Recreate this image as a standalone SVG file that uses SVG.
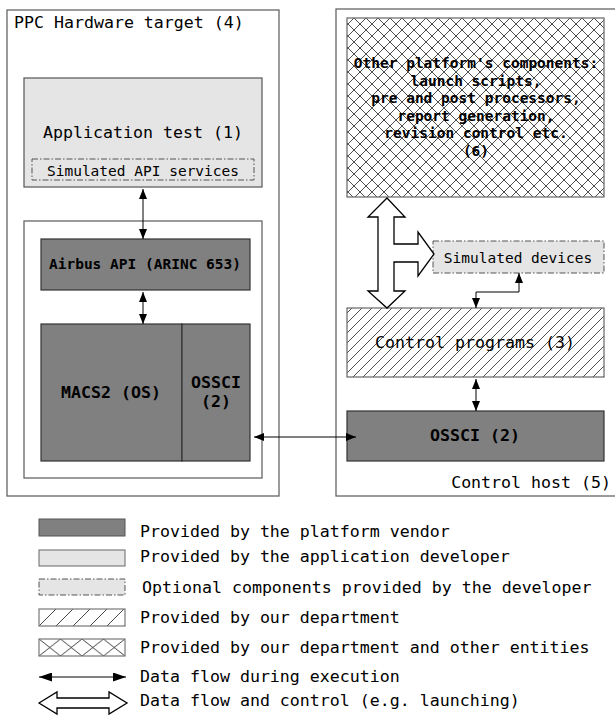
<svg xmlns="http://www.w3.org/2000/svg" width="615" height="718" viewBox="0 0 615 718">
<defs>
<style>
text{font-family:"DejaVu Sans Mono","Liberation Mono",monospace;fill:#000}
.l{font-size:16.6px}
.s{font-size:14.5px}
.b{font-weight:bold}
.m{text-anchor:middle}
.outer{fill:#fff;stroke:#666;stroke-width:1.3}
.dark{fill:#808080;stroke:#333;stroke-width:1.2}
.light{fill:#e5e5e5;stroke:#555;stroke-width:1.2}
.opt{fill:#e5e5e5;stroke:#555;stroke-width:1;stroke-dasharray:6 2 1.5 2}
.hatch{fill:url(#hatch);stroke:#666;stroke-width:1.2}
.cross{fill:url(#cross);stroke:#666;stroke-width:1.2}
.arr{fill:none;stroke:#000;stroke-width:1;marker-start:url(#ah);marker-end:url(#ah)}
.hollow{fill:#fff;stroke:#000;stroke-width:1.3;stroke-linejoin:miter}
</style>
<marker id="ah" markerUnits="userSpaceOnUse" markerWidth="10" markerHeight="8" refX="10" refY="4" orient="auto-start-reverse">
<path d="M0,0 L10,4 L0,8 z" fill="#000"/>
</marker>
<marker id="ahl" markerUnits="userSpaceOnUse" markerWidth="13" markerHeight="9" refX="13" refY="4.5" orient="auto-start-reverse">
<path d="M0,0 L13,4.5 L0,9 z" fill="#000"/>
</marker>
<pattern id="hatch" patternUnits="userSpaceOnUse" x="0" y="0" width="10" height="10">
<rect width="10" height="10" fill="#fff"/>
<path d="M-1,11 L11,-1 M-1,1 L1,-1 M9,11 L11,9" stroke="#222" stroke-width="0.8"/>
</pattern>
<pattern id="cross" patternUnits="userSpaceOnUse" x="0" y="0" width="12" height="12">
<rect width="12" height="12" fill="#fff"/>
<path d="M0,0 L12,12 M0,12 L12,0" stroke="#222" stroke-width="0.8"/>
</pattern>
<pattern id="hatchL" patternUnits="userSpaceOnUse" x="39" y="609" width="17" height="17">
<rect width="17" height="17" fill="#fff"/>
<path d="M0,17 L17,0" stroke="#333" stroke-width="0.9"/>
</pattern>
<pattern id="crossL" patternUnits="userSpaceOnUse" x="39" y="639" width="21.5" height="17">
<rect width="21.5" height="17" fill="#fff"/>
<path d="M0,0 L21.5,17 M0,17 L21.5,0" stroke="#333" stroke-width="0.9"/>
</pattern>
</defs>

<g id="ppc-target">
<rect class="outer" x="7" y="10" width="272" height="486"/>
<text class="l" x="14" y="28">PPC Hardware target (4)</text>
</g>

<g id="control-host">
<rect class="outer" x="336" y="9" width="282" height="487"/>
<text class="l" x="611" y="488" text-anchor="end">Control host (5)</text>
</g>

<g id="application-test">
<rect class="light" x="24" y="78" width="238" height="109"/>
<text class="l m" x="143" y="138">Application test (1)</text>
</g>

<g id="simulated-api">
<rect class="opt" x="32" y="159" width="222" height="21"/>
<text class="s m" x="143" y="176">Simulated API services</text>
</g>

<g id="platform-container">
<rect class="outer" x="24" y="221" width="238" height="257"/>
</g>

<g id="airbus-api">
<rect class="dark" x="41" y="239" width="209" height="51"/>
<text class="s b m" x="145" y="269">Airbus API (ARINC 653)</text>
</g>

<g id="macs2">
<rect class="dark" x="41" y="324" width="141" height="137"/>
<text class="l b m" x="111" y="398">MACS2 (OS)</text>
</g>

<g id="ossci-target">
<rect class="dark" x="182" y="324" width="68" height="137"/>
<text class="l b m" x="216" y="388">OSSCI</text>
<text class="l b m" x="216" y="407">(2)</text>
</g>

<g id="other-components">
<rect class="cross" x="347" y="18" width="257" height="179"/>
<text class="s b m" x="476" y="68">Other platform's components:</text>
<text class="s b m" x="476" y="85.5">launch scripts,</text>
<text class="s b m" x="476" y="103">pre and post processors,</text>
<text class="s b m" x="476" y="120.5">report generation,</text>
<text class="s b m" x="476" y="138">revision control etc.</text>
<text class="s b m" x="476" y="155.5">(6)</text>
</g>

<g id="simulated-devices">
<rect class="opt" x="433" y="241" width="171" height="32"/>
<text class="s m" x="518" y="263">Simulated devices</text>
</g>

<g id="control-programs">
<rect class="hatch" x="347" y="308" width="257" height="69"/>
<text class="l m" x="475" y="348">Control programs (3)</text>
</g>

<g id="ossci-host">
<rect class="dark" x="347" y="411" width="257" height="50"/>
<text class="l b m" x="475" y="441">OSSCI (2)</text>
</g>

<g id="connectors">
<path class="arr" d="M143,189 L143,239"/>
<path class="arr" d="M143,292 L143,324"/>
<path class="arr" d="M254,437 L356,437"/>
<path class="arr" d="M476,379 L476,411"/>
<path class="arr" d="M519,273 L519,292 L476,292 L476,308"/>
<path class="hollow" d="M387,198 L405,217 L394,217 L394,244 L418,244 L418,232 L434,254 L418,276 L418,262 L394,262 L394,291 L405,291 L387,308 L368,291 L378,291 L378,217 L368,217 Z"/>
</g>

<g id="legend">
<rect x="39" y="519" width="86" height="17" fill="#808080" stroke="#555" stroke-width="1"/>
<text class="l" x="140" y="537">Provided by the platform vendor</text>
<rect x="39" y="550" width="86" height="16" fill="#e5e5e5" stroke="#666" stroke-width="1"/>
<text class="l" x="140" y="562">Provided by the application developer</text>
<rect class="opt" x="39" y="579" width="86" height="16"/>
<text class="l" x="142" y="593">Optional components provided by the developer</text>
<rect x="39" y="609" width="86" height="17" fill="url(#hatchL)" stroke="#777" stroke-width="1.2"/>
<text class="l" x="140" y="623">Provided by our department</text>
<rect x="39" y="639" width="86" height="17" fill="url(#crossL)" stroke="#777" stroke-width="1.2"/>
<text class="l" x="140" y="653">Provided by our department and other entities</text>
<path d="M39,677 L126,677" stroke="#000" stroke-width="1" marker-start="url(#ahl)" marker-end="url(#ahl)"/>
<text class="l" x="140" y="682">Data flow during execution</text>
<path class="hollow" d="M39,703 L57,692 L57,698 L109,698 L109,692 L127,703 L109,714 L109,708 L57,708 L57,714 Z" stroke-width="1"/>
<text class="l" x="140" y="706">Data flow and control (e.g. launching)</text>
</g>
</svg>
